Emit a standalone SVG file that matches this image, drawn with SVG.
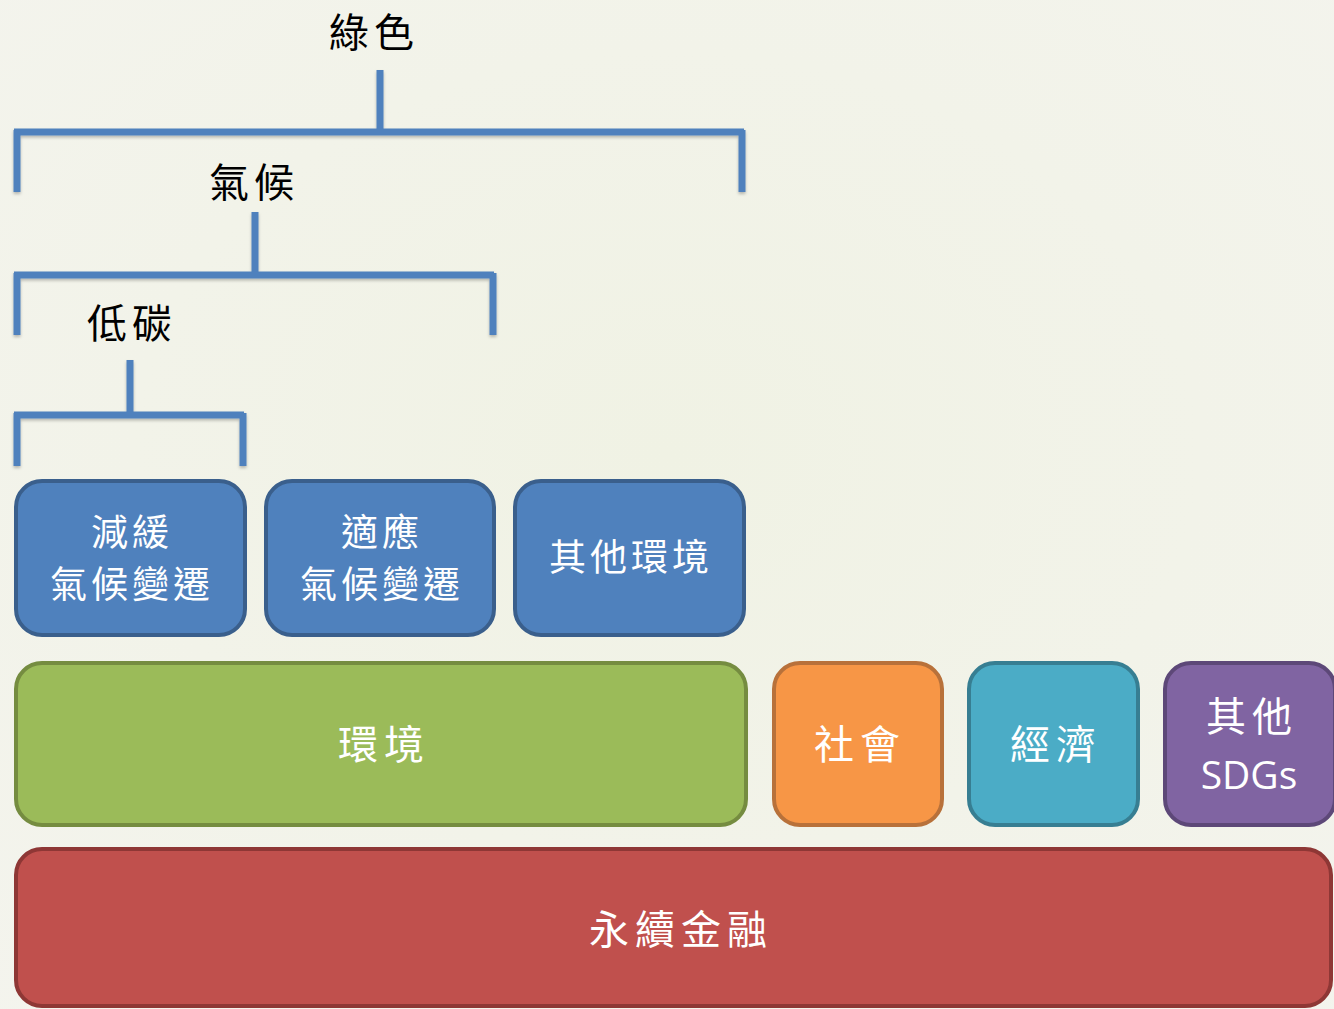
<svg xmlns="http://www.w3.org/2000/svg" width="1334" height="1009" viewBox="0 0 1334 1009">
<defs>
<radialGradient id="bg" cx="0.5" cy="0.45" r="0.8">
<stop offset="0" stop-color="#F0F2E4"/>
<stop offset="1" stop-color="#F4F4EE"/>
</radialGradient>
<filter id="sh" x="-10%" y="-10%" width="120%" height="130%">
<feDropShadow dx="0" dy="2" stdDeviation="1.5" flood-color="#000" flood-opacity="0.25"/>
</filter>
</defs>
<style>
.br{fill:none;stroke:#4F81BD;stroke-width:7;stroke-linecap:butt;}
.lbl{font-family:"Noto Sans CJK TC","Noto Sans CJK SC",sans-serif;font-size:40px;letter-spacing:5px;fill:#000;text-anchor:middle;}
.t{font-family:"Noto Sans CJK TC","Noto Sans CJK SC",sans-serif;font-size:37px;letter-spacing:4px;fill:#fff;text-anchor:middle;}
.tb{font-size:40px;letter-spacing:6px;}
.box{stroke-width:4;}
.blue{fill:#4F81BD;stroke:#3A5F8C;}
.green{fill:#9BBB59;stroke:#758C40;}
.orange{fill:#F79646;stroke:#B8713A;}
.teal{fill:#4BACC6;stroke:#377E92;}
.purple{fill:#8064A2;stroke:#5D4878;}
.red{fill:#C0504D;stroke:#8E3735;}
</style>
<rect width="1334" height="1009" fill="url(#bg)"/>
<g id="labels">
<text class="lbl" x="374" y="47">綠色</text>
<text class="lbl" x="254" y="197">氣候</text>
<text class="lbl" x="132" y="338">低碳</text>
</g>
<g id="connectors" filter="url(#sh)">
<path class="br" d="M380 70 V132 M14 132 H744 M17 130 V192 M742 130 V192"/>
<path class="br" d="M255 212 V275 M14 275 H494 M17 273 V335 M493 273 V335"/>
<path class="br" d="M130 360 V415 M14 415 H244 M17 413 V466 M243 413 V466"/>
</g>
<g id="n-mitigation">
<rect class="box blue" x="16" y="481" width="229" height="154" rx="26"/>
<text class="t" x="132" y="546">減緩</text>
<text class="t" x="132" y="598">氣候變遷</text>
</g>
<g id="n-adaptation">
<rect class="box blue" x="266" y="481" width="228" height="154" rx="26"/>
<text class="t" x="382" y="546">適應</text>
<text class="t" x="382" y="598">氣候變遷</text>
</g>
<g id="n-other-env">
<rect class="box blue" x="515" y="481" width="229" height="154" rx="26"/>
<text class="t" x="631" y="571">其他環境</text>
</g>
<g id="n-env">
<rect class="box green" x="16" y="663" width="730" height="162" rx="26"/>
<text class="t tb" x="384" y="759">環境</text>
</g>
<g id="n-social">
<rect class="box orange" x="774" y="663" width="168" height="162" rx="26"/>
<text class="t tb" x="860" y="759">社會</text>
</g>
<g id="n-economy">
<rect class="box teal" x="969" y="663" width="169" height="162" rx="26"/>
<text class="t tb" x="1056" y="759">經濟</text>
</g>
<g id="n-sdgs">
<rect class="box purple" x="1165" y="663" width="170" height="162" rx="26"/>
<text class="t tb" x="1252" y="731">其他</text>
<text class="t" x="1249" y="789" style="font-family:'Open Sans','Noto Sans',sans-serif;font-size:39px;letter-spacing:0">SDGs</text>
</g>
<g id="n-finance">
<rect class="box red" x="16" y="849" width="1315" height="157" rx="26"/>
<text class="t tb" x="681" y="944">永續金融</text>
</g>
</svg>
